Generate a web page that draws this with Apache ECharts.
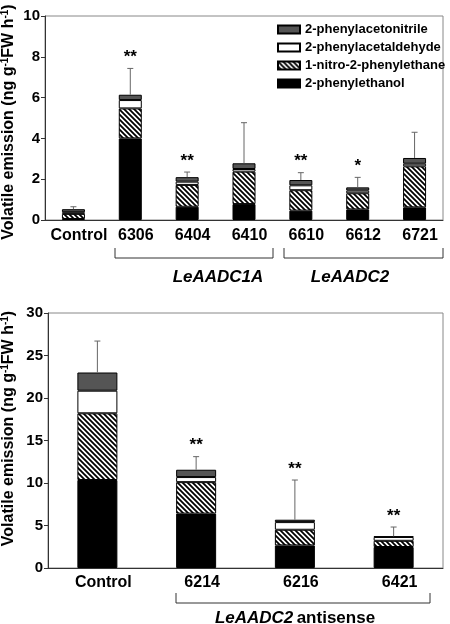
<!DOCTYPE html>
<html>
<head>
<meta charset="utf-8">
<script src="https://cdn.jsdelivr.net/npm/echarts@6/dist/echarts.min.js"></script>
<style>
html,body{margin:0;padding:0;background:#fff;}
#main{width:450px;height:624px;}
</style>
</head>
<body>
<div id="main"></div>
<script>
// ---------- data ----------
var seriesNames = ['2-phenylethanol', '1-nitro-2-phenylethane', '2-phenylacetaldehyde', '2-phenylacetonitrile'];
var legendOrder = ['2-phenylacetonitrile', '2-phenylacetaldehyde', '1-nitro-2-phenylethane', '2-phenylethanol'];

var topCategories = ['Control', '6306', '6404', '6410', '6610', '6612', '6721'];
var topEthanol   = [0.05, 4.00, 0.65, 0.78, 0.46, 0.52, 0.62];
var topNitro     = [0.25, 1.47, 1.07, 1.59, 1.00, 0.79, 2.01];
var topAldehyde  = [0.08, 0.41, 0.16, 0.13, 0.24, 0.13, 0.13];
var topNitrile   = [0.15, 0.26, 0.22, 0.28, 0.26, 0.16, 0.28];
var topError     = [0.12, 1.29, 0.25, 1.99, 0.36, 0.49, 1.26];
var topSig       = ['', '**', '**', '', '**', '*', ''];
var topTicks     = [0, 2, 4, 6, 8, 10];

var botCategories = ['Control', '6214', '6216', '6421'];
var botEthanol   = [10.35, 6.40, 2.66, 2.47];
var botNitro     = [7.85, 3.70, 1.84, 0.73];
var botAldehyde  = [2.66, 0.60, 0.90, 0.45];
var botNitrile   = [2.14, 0.86, 0.28, 0.07];
var botError     = [3.70, 1.54, 4.67, 1.10];
var botSig       = ['', '**', '**', '**'];
var botTicks     = [0, 5, 10, 15, 20, 25, 30];

// ---------- styling ----------
var FONT = '"Liberation Sans", Arial, sans-serif';

function makeHatch() {
  var s = 5;
  var c = document.createElement('canvas');
  c.width = s; c.height = s;
  var g = c.getContext('2d');
  g.fillStyle = '#fff';
  g.fillRect(0, 0, s, s);
  g.strokeStyle = '#000';
  g.lineWidth = 1.8;
  g.beginPath();
  for (var k = -1; k <= 1; k++) {
    g.moveTo(k * s - 1, -1);
    g.lineTo(k * s + s + 1, s + 1);
  }
  g.stroke();
  return c;
}
var hatch = { image: makeHatch(), repeat: 'repeat' };
var fills = ['#000000', hatch, '#ffffff', '#555555'];

function sum(arrs, i) { var t = 0; arrs.forEach(function (a) { t += a[i]; }); return t; }

function stackSeries(arrs, axisIdx, stackName, barW) {
  return arrs.map(function (arr, k) {
    return {
      name: seriesNames[k],
      type: 'bar',
      stack: stackName,
      xAxisIndex: axisIdx,
      yAxisIndex: axisIdx,
      barWidth: barW,
      data: arr,
      itemStyle: { color: fills[k], borderColor: '#000', borderWidth: 1 },
      emphasis: { disabled: true }
    };
  });
}

function errorSeries(arrs, err, sig, axisIdx) {
  var data = err.map(function (e, i) { return [i, sum(arrs, i), e]; });
  return {
    type: 'custom',
    xAxisIndex: axisIdx,
    yAxisIndex: axisIdx,
    data: data,
    encode: { x: 0, y: 1 },
    z: 5,
    silent: true,
    renderItem: function (params, api) {
      var x = api.value(0), tot = api.value(1), e = api.value(2);
      var p0 = api.coord([x, tot]);
      var p1 = api.coord([x, tot + e]);
      var children = [
        { type: 'line', shape: { x1: p0[0], y1: p0[1], x2: p1[0], y2: p1[1] }, style: { stroke: '#666', lineWidth: 1 } },
        { type: 'line', shape: { x1: p1[0] - 3, y1: p1[1], x2: p1[0] + 3, y2: p1[1] }, style: { stroke: '#666', lineWidth: 1 } }
      ];
      var s = sig[params.dataIndex];
      if (s) {
        children.push({
          type: 'text',
          style: {
            text: s, x: p1[0], y: p1[1] - 11,
            textAlign: 'center', textVerticalAlign: 'middle',
            font: 'bold 17px ' + FONT, fill: '#000'
          }
        });
      }
      return { type: 'group', children: children };
    }
  };
}

var yName = '{a|Volatile emission (ng g}{s|-1}{a|FW h}{s|-1}{a|)}';
function yNameStyle(pad) {
  return {
    padding: pad,
    rich: {
      a: { fontSize: 16, fontWeight: 'bold', fontFamily: FONT, color: '#000', lineHeight: 18 },
      s: { fontSize: 10, fontWeight: 'bold', fontFamily: FONT, color: '#000', verticalAlign: 'top', lineHeight: 18 }
    }
  };
}

function yAxis(gridIdx, ticks, gap, pad) {
  return {
    type: 'value', gridIndex: gridIdx,
    min: ticks[0], max: ticks[ticks.length - 1], interval: ticks[1] - ticks[0],
    name: yName, nameLocation: 'middle', nameRotate: 90, nameGap: gap,
    nameMoveOverlap: false,
    nameTextStyle: yNameStyle(pad),
    splitLine: { show: false },
    axisLine: { show: true, lineStyle: { color: '#333', width: 1 } },
    axisTick: { show: true, inside: false, length: 4, lineStyle: { color: '#333' } },
    axisLabel: { margin: 5, fontSize: 15, fontWeight: 'bold', fontFamily: FONT, color: '#000' }
  };
}
function xAxis(gridIdx, cats, margin, shift) {
  return {
    type: 'category', gridIndex: gridIdx, data: cats,
    axisLine: { show: true, lineStyle: { color: '#333', width: 1 } },
    axisTick: { show: false },
    axisLabel: { interval: 0, margin: margin, padding: [0, 0, 0, shift], fontSize: 16, fontWeight: 'bold', fontFamily: FONT, color: '#000' }
  };
}

var topArrs = [topEthanol, topNitro, topAldehyde, topNitrile];
var botArrs = [botEthanol, botNitro, botAldehyde, botNitrile];

function bracket(x1, x2, yLine, yTop) {
  return {
    type: 'polyline',
    silent: true,
    shape: { points: [[x1, yTop], [x1, yLine], [x2, yLine], [x2, yTop]] },
    style: { stroke: '#333', lineWidth: 1, fill: null }
  };
}

var option = {
  animation: false,
  backgroundColor: '#fff',
  textStyle: { fontFamily: FONT },
  grid: [
    { left: 45, top: 16, width: 398, height: 204, show: true, borderColor: '#888', borderWidth: 1, backgroundColor: 'transparent', containLabel: false, outerBoundsMode: 'none' },
    { left: 48, top: 313, width: 395, height: 255, show: true, borderColor: '#888', borderWidth: 1, backgroundColor: 'transparent', containLabel: false, outerBoundsMode: 'none' }
  ],
  legend: {
    data: legendOrder,
    orient: 'vertical',
    left: 277, top: 23,
    padding: 0,
    icon: 'rect',
    itemWidth: 22, itemHeight: 8, itemGap: 5,
    selectedMode: false,
    textStyle: { fontSize: 13, fontWeight: 'bold', fontFamily: FONT, color: '#000' }
  },
  xAxis: [xAxis(0, topCategories, 8, 11), xAxis(1, botCategories, 7, 12)],
  yAxis: [yAxis(0, topTicks, 27, [0, 8, 0, 0]), yAxis(1, botTicks, 30, [0, 0, 0, 24])],
  series: []
    .concat(stackSeries(topArrs, 0, 'top', 23))
    .concat(stackSeries(botArrs, 1, 'bot', 40))
    .concat([errorSeries(topArrs, topError, topSig, 0), errorSeries(botArrs, botError, botSig, 1)]),
  graphic: [
    bracket(115, 273, 258, 248),
    bracket(284, 443, 258, 248),
    bracket(176, 430, 603, 593),
    { type: 'text', silent: true, x: 218, y: 277, style: { text: 'LeAADC1A', textAlign: 'center', textVerticalAlign: 'middle', font: 'italic bold 17px ' + FONT, fill: '#000' } },
    { type: 'text', silent: true, x: 350, y: 277, style: { text: 'LeAADC2', textAlign: 'center', textVerticalAlign: 'middle', font: 'italic bold 17px ' + FONT, fill: '#000' } },
    { type: 'text', silent: true, x: 295, y: 618, style: {
        text: '{i|LeAADC2} {n|antisense}', textAlign: 'center', textVerticalAlign: 'middle',
        rich: {
          i: { fontStyle: 'italic', fontWeight: 'bold', fontSize: 17, fontFamily: FONT, fill: '#000' },
          n: { fontWeight: 'bold', fontSize: 17, fontFamily: FONT, fill: '#000' }
        }
      } }
  ]
};

var chart = echarts.init(document.getElementById('main'), null, { renderer: 'canvas' });
chart.setOption(option);
</script>
</body>
</html>
